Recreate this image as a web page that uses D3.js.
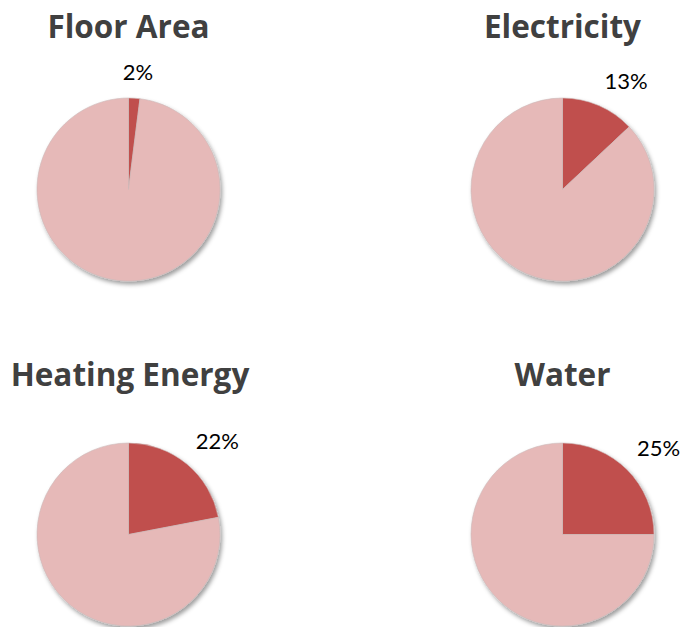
<!DOCTYPE html>
<html>
<head>
<meta charset="utf-8">
<script src="https://cdn.jsdelivr.net/npm/d3@7"></script>
<style>
  html, body { margin: 0; padding: 0; background: #fff; }
  svg { display: block; }
</style>
</head>
<body>
<svg id="chart" width="685" height="627"></svg>
<script>
// Share of the total for each resource (percent), remainder drawn as the light slice
const titles = ["Floor Area", "Electricity", "Heating Energy", "Water"];
const shares = [2, 13, 22, 25];
const shareLabels = ["2%", "13%", "22%", "25%"];

const colors = { share: "#C0504D", rest: "#E6B9B8" };

const svg = d3.select("#chart");

// Drop shadow under each pie
const defs = svg.append("defs");
const f = defs.append("filter").attr("id", "pieShadow")
  .attr("x", "-20%").attr("y", "-20%").attr("width", "140%").attr("height", "140%");
f.append("feDropShadow")
  .attr("dx", 2).attr("dy", 3).attr("stdDeviation", 2.2)
  .attr("flood-color", "#000").attr("flood-opacity", 0.38);

// 2x2 grid of panels
const colX = d3.scalePoint().domain([0, 1]).range([128.5, 562.5]);
const rowY = d3.scalePoint().domain([0, 1]).range([189.5, 534.5]);
const titleY = [38, 386];
const radius = 91.5;

const pie = d3.pie().sort(null).value(d => d.value);
const arc = d3.arc().innerRadius(0).outerRadius(radius);

titles.forEach((title, i) => {
  const col = i % 2, row = Math.floor(i / 2);
  const cx = colX(col), cy = rowY(row);

  svg.append("text")
    .attr("x", cx + (i === 2 ? 1.5 : 0))
    .attr("y", titleY[row])
    .attr("text-anchor", "middle")
    .attr("font-family", "'Open Sans', Lato, sans-serif")
    .attr("font-weight", "bold")
    .attr("font-size", 31.5)
    .attr("fill", "#404040")
    .text(title);

  const data = [
    { key: "share", value: shares[i] },
    { key: "rest", value: 100 - shares[i] }
  ];
  const arcs = pie(data);

  const g = svg.append("g").attr("transform", `translate(${cx},${cy})`);
  g.append("g").attr("filter", "url(#pieShadow)")
    .selectAll("path")
    .data(arcs)
    .join("path")
    .attr("d", arc)
    .attr("fill", d => colors[d.data.key])
    .attr("stroke", "#cdb9b9")
    .attr("stroke-width", 0.6);

  // Value label just outside the highlighted slice
  const s = arcs[0];
  const mid = (s.startAngle + s.endAngle) / 2;
  const lr = radius + 14;
  const ax = Math.sin(mid) * lr, ay = -Math.cos(mid) * lr;
  const label = g.append("text")
    .attr("font-family", "Lato, 'Open Sans', sans-serif")
    .attr("font-size", 22)
    .attr("fill", "#000")
    .text(shareLabels[i]);
  const w = label.node().getComputedTextLength();
  label.attr("x", ax + (w / 2) * Math.min(1, 3 * Math.sin(mid)) - w / 2)
       .attr("y", ay - 4);
});
</script>
</body>
</html>
